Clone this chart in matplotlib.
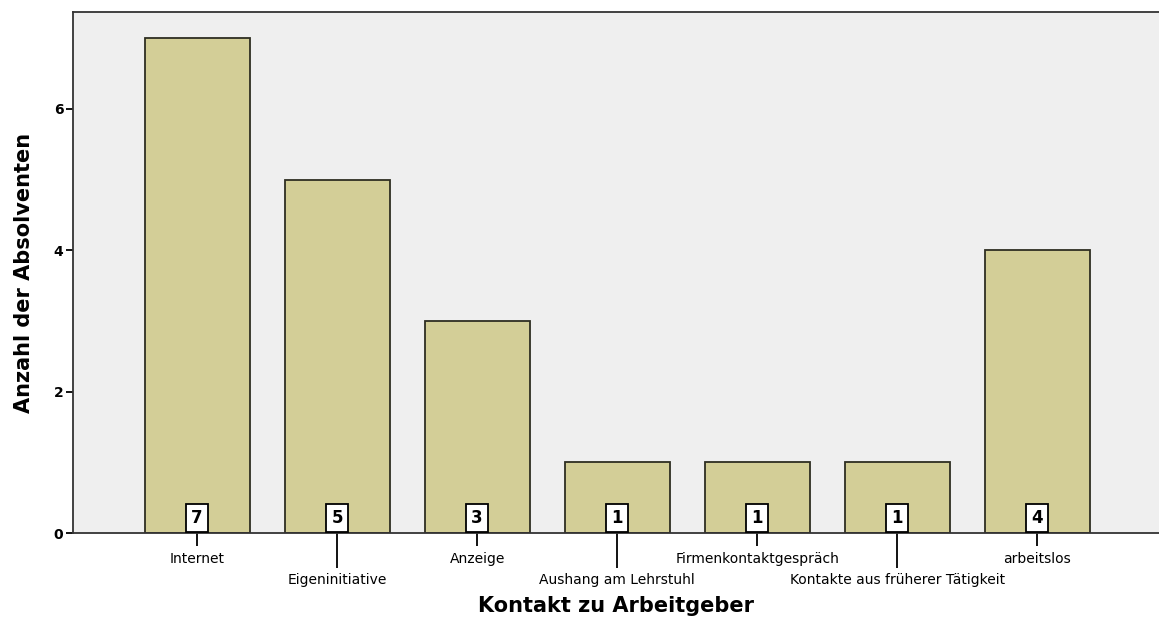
import matplotlib.pyplot as plt

# Kontakt zu Arbeitgeber - Anzahl der Absolventen
categories = ['Internet', 'Eigeninitiative', 'Anzeige', 'Aushang am Lehrstuhl',
              'Firmenkontaktgespräch', 'Kontakte aus früherer Tätigkeit', 'arbeitslos']
counts = [7, 5, 3, 1, 1, 1, 4]

fig = plt.figure(figsize=(11.59, 6.32), dpi=100)
ax = fig.add_axes([0.063, 0.1566, 0.937, 0.8244])
ax.set_facecolor('#efefef')

pos = list(range(len(categories)))
ax.bar(pos, counts, width=0.75, color='#d3ce97', edgecolor='#2e2e22', linewidth=1.3, zorder=2)

# count labels in white boxes sitting on the baseline of each bar
for x, v in zip(pos, counts):
    ax.annotate(str(v), (x, 0), xytext=(0, 4), textcoords='offset points',
                ha='center', va='bottom', fontsize=12, fontweight='bold',
                bbox=dict(boxstyle='square,pad=0.3', fc='white', ec='black', lw=1.3),
                zorder=3)

ax.set_xlim(-0.886, 6.87)
ax.set_ylim(0, 7.37)

# staggered category labels: even ones short tick, odd ones long tick
ax.set_xticks(pos[0::2])
ax.set_xticklabels(categories[0::2])
ax.set_xticks(pos[1::2], minor=True)
ax.set_xticklabels(categories[1::2], minor=True)
ax.tick_params(axis='x', which='major', length=9, width=1.3, pad=5, labelsize=10)
ax.tick_params(axis='x', which='minor', length=25, width=1.3, pad=4, labelsize=10)

ax.set_yticks([0, 2, 4, 6])
ax.tick_params(axis='y', length=5, width=1.3, pad=2, labelsize=10)
for lbl in ax.get_yticklabels():
    lbl.set_fontweight('bold')

for s in ['left', 'top', 'bottom']:
    ax.spines[s].set_linewidth(1.3)
    ax.spines[s].set_color('#333333')
ax.spines['right'].set_visible(False)

ax.set_xlabel('Kontakt zu Arbeitgeber', fontsize=15, fontweight='bold', labelpad=6)
ax.set_ylabel('Anzahl der Absolventen', fontsize=15, fontweight='bold', labelpad=14)

fig.savefig('out.png', dpi=100)
